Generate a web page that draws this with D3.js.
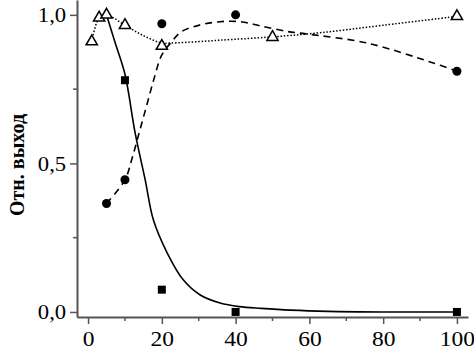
<!DOCTYPE html>
<html>
<head>
<meta charset="utf-8">
<script src="https://cdn.jsdelivr.net/npm/d3@7"></script>
<style>
  body { margin: 0; background: #fff; }
  .axis text { font-family: "Liberation Serif", serif; font-size: 21px; fill: #000; }
  .axis path, .axis line { stroke: #555; }
</style>
</head>
<body>
<div id="chart"></div>
<script>
// measured points
var squareX = [10, 20, 40, 100];
var squareY = [0.78, 0.075, 0.0, 0.0];

var circleX = [5, 10, 20, 40, 100];
var circleY = [0.365, 0.445, 0.97, 1.0, 0.81];

var triX = [1, 3, 5, 10, 20, 50, 100];
var triY = [0.91, 0.99, 1.0, 0.965, 0.895, 0.925, 0.995];

// fitted curves
var solidX = [5, 7.5, 10, 12.8, 15.5, 17.7, 21.4, 25.8, 30.4, 35.8, 41, 47, 55, 65, 80, 100];
var solidY = [1.0, 0.9, 0.8, 0.6, 0.444, 0.31, 0.2, 0.108, 0.057, 0.03, 0.018, 0.012, 0.006, 0.002, 0.0, 0.0];

var dashX = [5, 10, 12, 14, 16, 18, 20, 22.7, 25.4, 30.4, 35.8, 41.2, 46.7, 54, 59, 75.7, 93.6, 100];
var dashY = [0.365, 0.445, 0.52, 0.61, 0.70, 0.79, 0.865, 0.91, 0.944, 0.966, 0.977, 0.977, 0.963, 0.944, 0.936, 0.905, 0.838, 0.81];

var dotX = [1, 3, 5, 10, 15, 20, 22.3, 30, 36, 49, 63, 80, 100];
var dotY = [0.91, 0.99, 1.0, 0.965, 0.93, 0.905, 0.905, 0.91, 0.915, 0.925, 0.94, 0.965, 0.995];

var xTicks = [0, 20, 40, 60, 80, 100];
var xMinor = [10, 30, 50, 70, 90];
var yTicks = [0, 0.5, 1.0];
var yMinor = [0.25, 0.75];
var yLabel = "Отн. выход";

var width = 474, height = 351;

var svg = d3.select("#chart").append("svg")
    .attr("width", width)
    .attr("height", height);

var x = d3.scaleLinear().domain([-3, 103]).range([77, 468]);
var y = d3.scaleLinear().domain([-0.017, 1.05]).range([317, 0]);

var fmt = function(d) { return d3.format(".1f")(d).replace(".", ","); };

// axes
var xAxis = d3.axisBottom(x).tickValues(xTicks).tickSize(7).tickSizeOuter(0).tickPadding(7);
var yAxis = d3.axisLeft(y).tickValues(yTicks).tickSize(7).tickSizeOuter(0).tickPadding(3).tickFormat(fmt);

var gx = svg.append("g")
    .attr("class", "x-axis axis")
    .attr("transform", "translate(0,317)")
    .call(xAxis);
gx.select(".domain").attr("stroke-width", 2);
gx.selectAll(".tick line").attr("stroke-width", 1.5);
gx.selectAll(".tick text").attr("transform", "scale(1.12,1)");

gx.selectAll(".minor")
    .data(xMinor)
    .enter().append("line")
    .attr("class", "minor")
    .attr("x1", function(d) { return x(d); })
    .attr("x2", function(d) { return x(d); })
    .attr("y1", 0)
    .attr("y2", 4)
    .attr("stroke", "#555")
    .attr("stroke-width", 1.5);

var gy = svg.append("g")
    .attr("class", "y-axis axis")
    .attr("transform", "translate(77,0)")
    .call(yAxis);
gy.select(".domain").attr("stroke-width", 2);
gy.selectAll(".tick line").attr("stroke-width", 1.5);
gy.selectAll(".tick text").attr("transform", "scale(1.08,1)");

gy.selectAll(".minor")
    .data(yMinor)
    .enter().append("line")
    .attr("class", "minor")
    .attr("x1", 0)
    .attr("x2", -4)
    .attr("y1", function(d) { return y(d); })
    .attr("y2", function(d) { return y(d); })
    .attr("stroke", "#555")
    .attr("stroke-width", 1.5);

svg.append("text")
    .attr("transform", "translate(24,165) rotate(-90)")
    .attr("text-anchor", "middle")
    .style("font-family", "Liberation Serif, serif")
    .style("font-size", "20px")
    .style("font-weight", "bold")
    .text(yLabel);

// curves
var line = d3.line()
    .x(function(d) { return x(d[0]); })
    .y(function(d) { return y(d[1]); })
    .curve(d3.curveCatmullRom.alpha(0.5));

function pairs(xs, ys) { return xs.map(function(v, i) { return [v, ys[i]]; }); }

svg.append("path")
    .datum(pairs(solidX, solidY))
    .attr("d", line)
    .attr("fill", "none")
    .attr("stroke", "#000")
    .attr("stroke-width", 1.6);

svg.append("path")
    .datum(pairs(dashX, dashY))
    .attr("d", line)
    .attr("fill", "none")
    .attr("stroke", "#000")
    .attr("stroke-width", 1.6)
    .attr("stroke-dasharray", "7,5");

svg.append("path")
    .datum(pairs(dotX, dotY))
    .attr("d", line)
    .attr("fill", "none")
    .attr("stroke", "#000")
    .attr("stroke-width", 1.5)
    .attr("stroke-dasharray", "1.5,1.8");

// markers
svg.selectAll(".sq")
    .data(pairs(squareX, squareY))
    .enter().append("rect")
    .attr("class", "sq")
    .attr("x", function(d) { return x(d[0]) - 4; })
    .attr("y", function(d) { return y(d[1]) - 4; })
    .attr("width", 8)
    .attr("height", 8)
    .attr("fill", "#000");

svg.selectAll(".circ")
    .data(pairs(circleX, circleY))
    .enter().append("circle")
    .attr("class", "circ")
    .attr("cx", function(d) { return x(d[0]); })
    .attr("cy", function(d) { return y(d[1]); })
    .attr("r", 4.5)
    .attr("fill", "#000");

var tri = d3.symbol().type(d3.symbolTriangle).size(55);
svg.selectAll(".tri")
    .data(pairs(triX, triY))
    .enter().append("path")
    .attr("class", "tri")
    .attr("d", tri)
    .attr("transform", function(d) { return "translate(" + x(d[0]) + "," + y(d[1]) + ")"; })
    .attr("fill", "#fff")
    .attr("stroke", "#000")
    .attr("stroke-width", 1.5);
</script>
</body>
</html>
